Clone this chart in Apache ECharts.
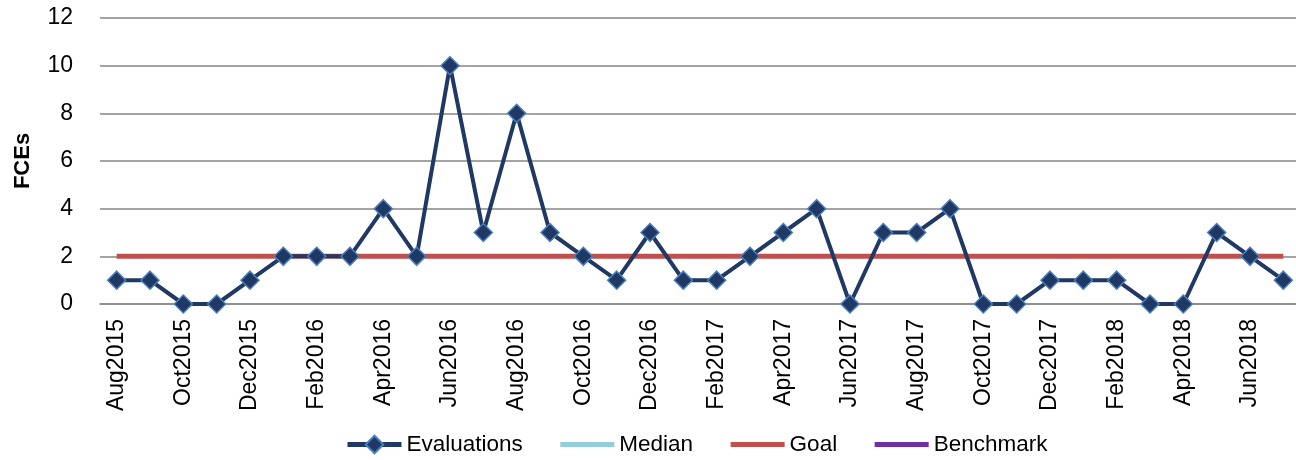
<!DOCTYPE html>
<html>
<head>
<meta charset="utf-8">
<script src="https://cdn.jsdelivr.net/npm/echarts@6/dist/echarts.min.js"></script>
<style>html,body{margin:0;padding:0;background:#fff;overflow:hidden;}#chart{width:1296px;height:460px;}</style>
</head>
<body>
<div id="chart"></div>
<script>
const months = ['Aug2015','Sep2015','Oct2015','Nov2015','Dec2015','Jan2016','Feb2016','Mar2016','Apr2016','May2016','Jun2016','Jul2016','Aug2016','Sep2016','Oct2016','Nov2016','Dec2016','Jan2017','Feb2017','Mar2017','Apr2017','May2017','Jun2017','Jul2017','Aug2017','Sep2017','Oct2017','Nov2017','Dec2017','Jan2018','Feb2018','Mar2018','Apr2018','May2018','Jun2018','Jul2018'];
const evaluations = [1,1,0,0,1,2,2,2,4,2,10,3,8,3,2,1,3,1,1,2,3,4,0,3,3,4,0,0,1,1,1,0,0,3,2,1];
const goal = [2,2,2,2,2,2,2,2,2,2,2,2,2,2,2,2,2,2,2,2,2,2,2,2,2,2,2,2,2,2,2,2,2,2,2,2];
const median = [];
const benchmark = [];
const yTicks = [0,2,4,6,8,10,12];

const font = '"Liberation Sans", Arial, sans-serif';
const chart = echarts.init(document.getElementById('chart'));
chart.setOption({
  animation: false,
  backgroundColor: '#fff',
  grid: { left: 100, width: 1200, top: 18, bottom: 156, containLabel: false, outerBoundsMode: 'none' },
  legend: {
    top: 428, left: 340,
    itemWidth: 54, itemHeight: 22, itemGap: 35,
    lineStyle: { width: 5 },
    textStyle: { fontFamily: font, fontSize: 22.5, color: '#000' },
    data: [
      { name: 'Evaluations' },
      { name: 'Median', itemStyle: { opacity: 0 } },
      { name: 'Goal', itemStyle: { opacity: 0 } },
      { name: 'Benchmark', itemStyle: { opacity: 0 } }
    ]
  },
  xAxis: {
    type: 'category', data: months, boundaryGap: true,
    axisLine: { show: true, lineStyle: { color: '#868686', width: 1.5 } },
    axisTick: { show: false },
    axisLabel: { interval: 1, rotate: 90, margin: 15, fontFamily: font, fontSize: 23, color: '#000' }
  },
  yAxis: {
    type: 'value', min: yTicks[0], max: yTicks[yTicks.length-1], interval: 2,
    name: 'FCEs', nameLocation: 'middle', nameGap: 66, nameRotate: 90,
    nameTextStyle: { fontFamily: font, fontSize: 22, fontWeight: 'bold', color: '#000' },
    axisLine: { show: false }, axisTick: { show: false },
    axisLabel: { margin: 27, fontFamily: font, fontSize: 23, color: '#000' },
    splitLine: { lineStyle: { color: '#868686', width: 1.5 } }
  },
  series: [
    { name: 'Evaluations', type: 'line', data: evaluations, z: 5,
      symbol: 'diamond', symbolSize: 18,
      lineStyle: { color: '#1F3864', width: 4 },
      itemStyle: { color: '#1F3864', borderColor: '#4A7EBB', borderWidth: 1.5 } },
    { name: 'Median', type: 'line', data: median, symbol: 'none',
      lineStyle: { color: '#93CDDD', width: 4.5 }, itemStyle: { color: '#93CDDD' } },
    { name: 'Goal', type: 'line', data: goal, symbol: 'none', z: 3,
      lineStyle: { color: '#C0504D', width: 5 }, itemStyle: { color: '#C0504D' } },
    { name: 'Benchmark', type: 'line', data: benchmark, symbol: 'none',
      lineStyle: { color: '#7030A0', width: 4.5 }, itemStyle: { color: '#7030A0' } }
  ]
});
</script>
</body>
</html>
